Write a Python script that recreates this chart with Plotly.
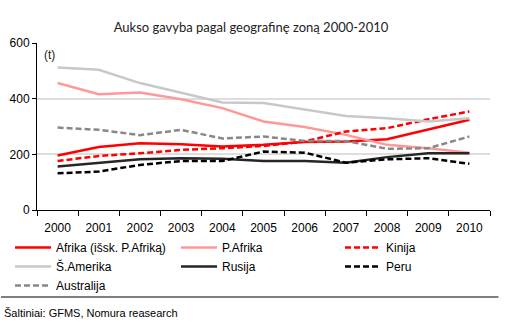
import plotly.graph_objects as go

years = ["2000", "2001", "2002", "2003", "2004", "2005", "2006", "2007", "2008", "2009", "2010"]

afrika = [196, 226, 240, 236, 228, 234, 244, 246, 254, 288, 324]
p_afrika = [456, 416, 422, 398, 366, 318, 298, 270, 234, 222, 206]
kinija = [176, 194, 204, 216, 222, 230, 246, 282, 294, 326, 354]
s_amerika = [512, 504, 456, 420, 386, 384, 360, 338, 330, 318, 330]
rusija = [156, 168, 182, 186, 184, 176, 176, 170, 190, 204, 204]
peru = [132, 138, 162, 176, 176, 210, 206, 170, 182, 186, 166]
australija = [296, 288, 269, 288, 257, 264, 248, 248, 220, 222, 264]

# (name, values, colour, dash, legend column)
series = [
    ("Afrika (išsk. P.Afriką)", afrika, "#FF0000", "solid", "legend"),
    ("P.Afrika", p_afrika, "#FF9999", "solid", "legend2"),
    ("Kinija", kinija, "#FF0000", "6px,3px", "legend3"),
    ("Š.Amerika", s_amerika, "#C8C8C8", "solid", "legend"),
    ("Rusija", rusija, "#262626", "solid", "legend2"),
    ("Peru", peru, "#000000", "6px,3px", "legend3"),
    ("Australija", australija, "#888888", "6px,3px", "legend"),
]

font = "Liberation Sans, Arial, sans-serif"

fig = go.Figure()
for name, vals, color, dash, leg in series:
    fig.add_trace(go.Scatter(
        x=years, y=vals, name=name, mode="lines", legend=leg,
        line=dict(color=color, width=2.5, dash=dash),
    ))

def leg_cfg(xpx):
    return dict(orientation="v", xref="container", yref="container",
                x=xpx / 505, y=0.2762, xanchor="left", yanchor="top",
                itemwidth=36, tracegroupgap=0, traceorder="normal",
                font=dict(family=font, size=12), bgcolor="rgba(0,0,0,0)")

fig.update_layout(
    width=505, height=322,
    margin=dict(l=37, r=15, t=43, b=112, autoexpand=False),
    paper_bgcolor="white", plot_bgcolor="white",
    font=dict(family=font, size=12, color="#000000"),
    title=dict(text="Aukso gavyba pagal geografinę zoną 2000-2010",
               x=0.497, xanchor="center", y=0.915, yanchor="middle",
               font=dict(family="Lato, sans-serif", size=13, color="#222222")),
    showlegend=True,
    legend=leg_cfg(10),
    legend2=leg_cfg(176),
    legend3=leg_cfg(340),
    xaxis=dict(type="category", showline=True, linecolor="black", linewidth=1,
               ticks="outside", ticklen=5, tickcolor="black", tickson="boundaries",
               ticklabelstandoff=7,
               showgrid=False, tickfont=dict(size=12), range=[-0.5, 10.5]),
    yaxis=dict(range=[0, 600], tickvals=[0, 200, 400, 600], showline=True,
               linecolor="black", linewidth=1, ticks="outside", ticklen=4,
               tickcolor="black", showgrid=True, gridcolor="#DDDDDD", gridwidth=1.5,
               zeroline=False, tickfont=dict(size=12)),
)

fig.add_annotation(text="(t)", xref="paper", yref="paper", x=0.01, y=0.93,
                   xanchor="left", yanchor="middle", showarrow=False,
                   font=dict(family=font, size=12, color="#222222"))
# separator line between legend and source note
fig.add_annotation(text=" ", xref="paper", yref="paper",
                   x=-37/453, y=-87/167, ax=500, ay=0, axref="pixel", ayref="pixel",
                   showarrow=True, arrowhead=0, arrowwidth=1, arrowcolor="#000000",
                   standoff=0, startstandoff=0, font=dict(size=1))
fig.add_annotation(text="Šaltiniai: GFMS, Nomura reasearch", xref="paper", yref="paper",
                   x=-35/453, y=-103/167, xanchor="left", yanchor="middle", showarrow=False,
                   font=dict(family=font, size=11, color="#000000"))

fig.write_html("out.html")
